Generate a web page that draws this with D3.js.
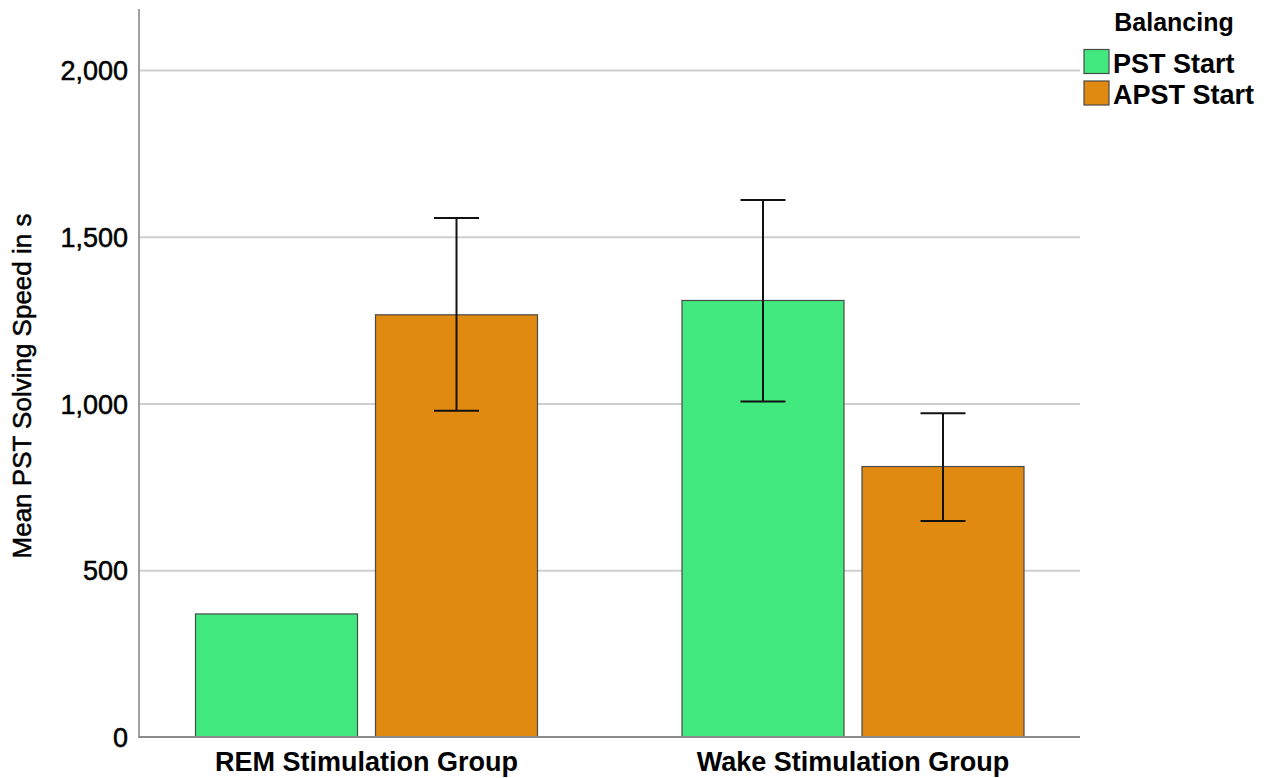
<!DOCTYPE html>
<html>
<head>
<meta charset="utf-8">
<script src="https://cdn.jsdelivr.net/npm/d3@7"></script>
<style>
  body { margin: 0; background: #fff; }
  svg { display: block; font-family: Arial, "Liberation Sans", sans-serif; }
</style>
</head>
<body>
<div id="chart"></div>
<script>
// data
var groups = ["REM Stimulation Group", "Wake Stimulation Group"];
var series = ["PST Start", "APST Start"];
var seriesColors = ["#42e97e", "#e08a12"];
var means = [[369, 1266], [1309, 811]];
var errLow = [[null, 978], [1006, 648]];
var errHigh = [[null, 1556], [1610, 971]];
var yTicks = [0, 500, 1000, 1500, 2000];

var W = 1275, H = 778;
var plot = {left: 139, right: 1080, top: 9, bottom: 737};

var svg = d3.select("#chart").append("svg")
  .attr("width", W)
  .attr("height", H);

// scales
var y = d3.scaleLinear().domain([0, 2183]).range([plot.bottom, plot.top]);
var x0 = d3.scaleBand().domain(groups).range([123.25, 1096.25]).padding(0);
var x1 = d3.scaleBand().domain(series).range([-171, 171]).paddingInner(0.1);

// gridlines
svg.append("g")
  .attr("class", "grid")
  .attr("transform", "translate(" + plot.right + ",0)")
  .call(d3.axisLeft(y).tickValues(yTicks.filter(function(d) { return d > 0; }))
    .tickSize(plot.right - plot.left - 1).tickFormat(""))
  .call(function(g) {
    g.select(".domain").remove();
    g.selectAll("line").attr("stroke", "#cfcfcf").attr("stroke-width", 2);
  });

// y tick labels
svg.append("g")
  .attr("transform", "translate(" + plot.left + ",0)")
  .call(d3.axisLeft(y).tickValues(yTicks).tickSize(0).tickPadding(11).tickFormat(d3.format(",")))
  .call(function(g) {
    g.select(".domain").remove();
    g.selectAll("text")
      .attr("font-family", "Arial, 'Liberation Sans', sans-serif")
      .attr("font-size", "27px")
      .attr("fill", "#000")
      .attr("stroke", "#000")
      .attr("stroke-width", 0.5)
      .attr("dy", "0.36em");
  });

// bars
var groupSel = svg.selectAll(".group")
  .data(groups)
  .enter().append("g")
  .attr("class", "group")
  .attr("transform", function(d) { return "translate(" + (x0(d) + x0.bandwidth() / 2) + ",0)"; });

groupSel.selectAll("rect")
  .data(function(d, gi) {
    return series.map(function(s, si) {
      return {s: s, si: si, v: means[gi][si], lo: errLow[gi][si], hi: errHigh[gi][si]};
    });
  })
  .enter().append("rect")
  .attr("x", function(d) { return x1(d.s); })
  .attr("width", x1.bandwidth())
  .attr("y", function(d) { return y(d.v); })
  .attr("height", function(d) { return y(0) - y(d.v); })
  .attr("fill", function(d) { return seriesColors[d.si]; })
  .attr("stroke", "#4a4a4a")
  .attr("stroke-width", 1.2);

// error bars
var capHalf = 22.5;
var errSel = groupSel.selectAll(".err")
  .data(function(d, gi) {
    return series.map(function(s, si) {
      return {s: s, lo: errLow[gi][si], hi: errHigh[gi][si]};
    }).filter(function(d) { return d.lo != null; });
  })
  .enter().append("g")
  .attr("class", "err")
  .attr("stroke", "#111")
  .attr("stroke-width", 2);

errSel.append("line")
  .attr("x1", function(d) { return x1(d.s) + x1.bandwidth() / 2; })
  .attr("x2", function(d) { return x1(d.s) + x1.bandwidth() / 2; })
  .attr("y1", function(d) { return y(d.hi); })
  .attr("y2", function(d) { return y(d.lo); });
errSel.append("line")
  .attr("x1", function(d) { return x1(d.s) + x1.bandwidth() / 2 - capHalf; })
  .attr("x2", function(d) { return x1(d.s) + x1.bandwidth() / 2 + capHalf; })
  .attr("y1", function(d) { return y(d.hi); })
  .attr("y2", function(d) { return y(d.hi); });
errSel.append("line")
  .attr("x1", function(d) { return x1(d.s) + x1.bandwidth() / 2 - capHalf; })
  .attr("x2", function(d) { return x1(d.s) + x1.bandwidth() / 2 + capHalf; })
  .attr("y1", function(d) { return y(d.lo); })
  .attr("y2", function(d) { return y(d.lo); });

// axis lines
svg.append("line")
  .attr("x1", plot.left).attr("x2", plot.left)
  .attr("y1", plot.top).attr("y2", plot.bottom + 1)
  .attr("stroke", "#a0a0a0").attr("stroke-width", 2);
svg.append("line")
  .attr("x1", plot.left).attr("x2", plot.right)
  .attr("y1", plot.bottom).attr("y2", plot.bottom)
  .attr("stroke", "#8a8a8a").attr("stroke-width", 2);

// x labels
svg.append("g")
  .attr("transform", "translate(0," + plot.bottom + ")")
  .call(d3.axisBottom(x0).tickSize(0).tickPadding(15))
  .call(function(g) {
    g.select(".domain").remove();
    g.selectAll("text")
      .attr("font-family", "Arial, 'Liberation Sans', sans-serif")
      .attr("font-size", "27px")
      .attr("font-weight", "bold")
      .attr("fill", "#000")
      .attr("dy", "0.72em");
  });

// y title
svg.append("text")
  .attr("transform", "translate(31," + 386 + ") rotate(-90)")
  .attr("text-anchor", "middle")
  .attr("font-size", "26px")
  .attr("fill", "#000")
  .attr("stroke", "#000")
  .attr("stroke-width", 0.5)
  .text("Mean PST Solving Speed in s");

// legend
var legend = svg.append("g").attr("transform", "translate(1084,0)");
legend.append("text")
  .attr("x", 90).attr("y", 31)
  .attr("text-anchor", "middle")
  .attr("font-size", "25px")
  .attr("font-weight", "bold")
  .text("Balancing");

var item = legend.selectAll(".item")
  .data(series)
  .enter().append("g")
  .attr("class", "item")
  .attr("transform", function(d, i) { return "translate(0," + (49.5 + i * 31.5) + ")"; });
item.append("rect")
  .attr("width", 25).attr("height", 24)
  .attr("fill", function(d, i) { return seriesColors[i]; })
  .attr("stroke", "#4a4a4a").attr("stroke-width", 1.2);
item.append("text")
  .attr("x", 29).attr("y", 23)
  .attr("font-size", "27px")
  .attr("font-weight", "bold")
  .text(function(d) { return d; });
</script>
</body>
</html>
